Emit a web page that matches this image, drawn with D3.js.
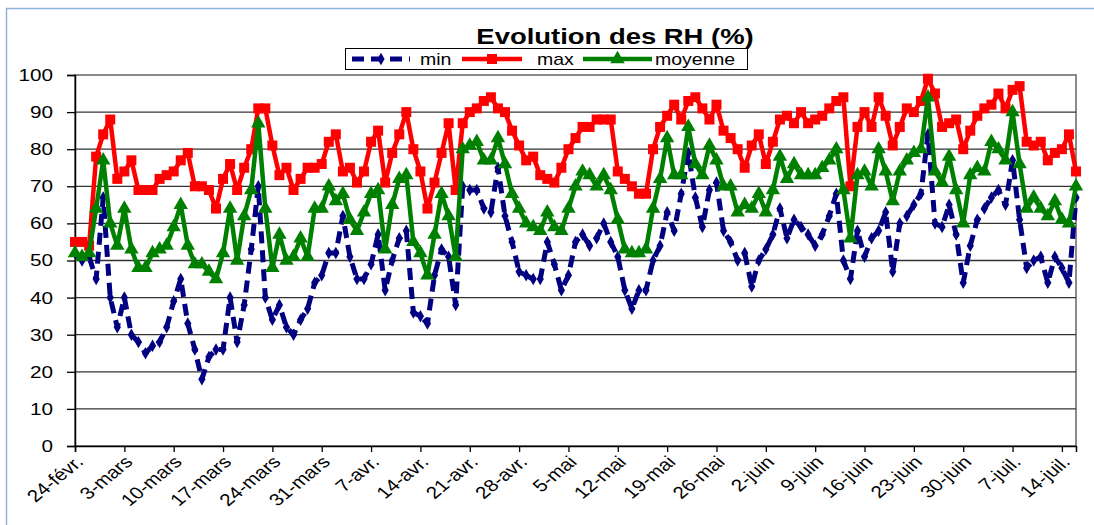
<!DOCTYPE html>
<html lang="fr">
<head>
    <meta charset="UTF-8">
    <title>Evolution des RH (%)</title>
    <script src="https://d3js.org/d3.v7.min.js"></script>
    <style>
        body { margin: 0; background: #fff; }
        text { font-family: "Liberation Sans", Arial, sans-serif; fill: #000; }
    </style>
</head>
<body>
    <div id="chart"></div>

    <script>
        // Daily relative humidity, one value per day from 24 Feb
        const minRH = [
            52, 50, 51, 45, 67, 40, 32, 40, 30, 28,
            25, 27, 28, 32, 39, 45, 33, 26, 18, 24,
            26, 26, 40, 28, 38, 53, 70, 40, 34, 38,
            32, 30, 34, 37, 44, 46, 52, 52, 62, 51,
            45, 45, 49, 57, 42, 50, 56, 58, 36, 35,
            33, 46, 53, 51, 38, 70, 69, 69, 64, 63,
            75, 62, 55, 47, 46, 45, 45, 55, 49, 42,
            46, 55, 57, 54, 56, 60, 55, 51, 42, 37,
            42, 42, 50, 54, 63, 58, 68, 79, 67, 59,
            69, 71, 58, 55, 50, 52, 43, 50, 53, 57,
            64, 56, 61, 59, 57, 54, 57, 62, 68, 50,
            45, 58, 51, 56, 58, 63, 47, 60, 62, 65,
            68, 84, 60, 59, 65, 57, 44, 54, 61, 64,
            67, 69, 65, 77, 61, 48, 50, 51, 44, 51,
            48, 44, 67
        ];
        const maxRH = [
            55, 55, 54, 78, 84, 88, 72, 74, 77, 69,
            69, 69, 72, 73, 74, 77, 79, 70, 70, 69,
            64, 72, 76, 69, 75, 80, 91, 91, 81, 73,
            75, 69, 72, 75, 75, 76, 82, 84, 74, 75,
            71, 74, 82, 85, 71, 79, 84, 90, 80, 74,
            64, 71, 79, 87, 69, 87, 90, 91, 93, 94,
            91, 90, 85, 81, 77, 78, 73, 72, 71, 75,
            80, 83, 86, 86, 88, 88, 88, 74, 72, 70,
            68, 68, 80, 86, 89, 92, 88, 93, 94, 91,
            88, 92, 85, 83, 80, 75, 81, 84, 76, 82,
            88, 89, 87, 90, 87, 88, 89, 91, 93, 94,
            70, 86, 90, 86, 94, 89, 81, 86, 91, 90,
            93, 99, 95, 86, 87, 88, 80, 85, 89, 91,
            92, 95, 91, 96, 97, 82, 81, 82, 77, 79,
            80, 84, 74
        ];
        const meanRH = [
            52, 51, 52, 64, 77, 60, 54, 64, 53, 48,
            48, 52, 53, 54, 59, 65, 54, 49, 49, 47,
            45, 52, 64, 50, 62, 69, 87, 64, 48, 57,
            50, 51, 56, 51, 64, 64, 70, 66, 68, 61,
            58, 63, 68, 69, 53, 65, 72, 73, 55, 52,
            46, 57, 68, 62, 51, 80, 81, 82, 77, 77,
            83, 76, 68, 64, 60, 59, 58, 63, 59, 58,
            64, 70, 74, 73, 70, 73, 69, 61, 53, 52,
            52, 53, 64, 72, 83, 73, 73, 86, 76, 73,
            81, 77, 70, 70, 63, 65, 64, 68, 63, 69,
            78, 72, 76, 73, 73, 73, 75, 77, 80, 69,
            56, 73, 74, 70, 80, 74, 66, 74, 77, 79,
            80, 94, 74, 71, 78, 69, 60, 73, 75, 74,
            82, 80, 77, 90, 76, 64, 67, 64, 62, 66,
            61, 60, 70
        ];

        const tickLabels = ["24-févr.", "3-mars", "10-mars", "17-mars", "24-mars", "31-mars",
            "7-avr.", "14-avr.", "21-avr.", "28-avr.", "5-mai", "12-mai", "19-mai", "26-mai",
            "2-juin", "9-juin", "16-juin", "23-juin", "30-juin", "7-juil.", "14-juil."];
        const yTicks = [0, 10, 20, 30, 40, 50, 60, 70, 80, 90, 100];

        const seriesNames = ["min", "max", "moyenne"];
        const seriesColors = ["#000080", "#ff0000", "#008000"];

        const DAY = 864e5;
        const start = Date.UTC(2007, 1, 24);
        const dates = minRH.map((_, i) => new Date(start + i * DAY));
        const tickDates = tickLabels.map((_, i) => new Date(start + i * 7 * DAY));

        const svgWidth = 1094;
        const svgHeight = 525;
        const plot = { left: 75, right: 1076, top: 75, bottom: 446 };
        const sx = 1.22; // the original text is stretched sideways

        const svg = d3.select("#chart")
            .append("svg")
            .attr("width", svgWidth)
            .attr("height", svgHeight);

        // outer frame (only top and left edges show)
        svg.append("path")
            .attr("d", `M6.5,${svgHeight}V8.5H${svgWidth}`)
            .attr("fill", "none")
            .attr("stroke", "#8fb3e0")
            .attr("stroke-width", 1.5);

        const x = d3.scaleUtc()
            .domain([dates[0], dates[dates.length - 1]])
            .range([plot.left, plot.right]);

        const y = d3.scaleLinear()
            .domain([0, 100])
            .range([plot.bottom, plot.top]);

        // plot area border
        svg.append("rect")
            .attr("x", plot.left)
            .attr("y", plot.top)
            .attr("width", plot.right - plot.left)
            .attr("height", plot.bottom - plot.top)
            .attr("fill", "#fff")
            .attr("stroke", "#8a8a8a")
            .attr("stroke-width", 2);

        // gridlines
        svg.append("g")
            .selectAll("line")
            .data(yTicks.filter(v => v > 0 && v < 100))
            .join("line")
            .attr("x1", plot.left)
            .attr("x2", plot.right)
            .attr("y1", d => y(d))
            .attr("y2", d => y(d))
            .attr("stroke", "#333")
            .attr("stroke-width", 1.3);

        // y axis
        const yAxis = svg.append("g")
            .attr("transform", `translate(${plot.left},0)`)
            .call(d3.axisLeft(y).tickValues(yTicks).tickSize(8).tickPadding(10));
        yAxis.select(".domain").attr("stroke", "#000").attr("stroke-width", 1.5);
        yAxis.selectAll(".tick line").attr("stroke", "#000").attr("stroke-width", 1.3);
        yAxis.selectAll(".tick text")
            .attr("font-size", 17)
            .attr("font-family", null)
            .attr("transform", `scale(${sx},1)`);

        // x axis
        const xAxis = svg.append("g")
            .attr("transform", `translate(0,${plot.bottom})`)
            .call(d3.axisBottom(x).tickValues(tickDates).tickFormat((d, i) => tickLabels[i]).tickSize(6));
        xAxis.select(".domain").attr("stroke", "#000").attr("stroke-width", 1.5);
        xAxis.selectAll(".tick line").attr("stroke", "#000").attr("stroke-width", 1.3);
        xAxis.selectAll(".tick text")
            .attr("font-size", 17)
            .attr("font-family", null)
            .attr("text-anchor", "end")
            .attr("x", 0)
            .attr("y", 0)
            .attr("dy", 0)
            .attr("transform", `translate(9,17) scale(${sx},1) rotate(-45)`);

        // series
        const allSeries = [minRH, maxRH, meanRH];
        const line = d3.line()
            .x((d, i) => x(dates[i]))
            .y(d => y(d));

        const symbols = [
            d3.symbol().type(d3.symbolDiamond).size(45),
            d3.symbol().type(d3.symbolSquare).size(100),
            d3.symbol().type(d3.symbolTriangle).size(90)
        ];

        allSeries.forEach((values, k) => {
            const g = svg.append("g");
            g.append("path")
                .datum(values)
                .attr("d", line)
                .attr("fill", "none")
                .attr("stroke", seriesColors[k])
                .attr("stroke-width", k === 0 ? 5 : 4.5)
                .attr("stroke-dasharray", k === 0 ? "12,7" : null)
                .attr("stroke-linejoin", "round");
            g.selectAll("path.mark")
                .data(values)
                .join("path")
                .attr("class", "mark")
                .attr("transform", (d, i) => `translate(${x(dates[i])},${y(d)})`)
                .attr("d", symbols[k])
                .attr("fill", seriesColors[k]);
        });

        // title
        svg.append("text")
            .attr("transform", `translate(615,44) scale(${sx},1)`)
            .attr("text-anchor", "middle")
            .attr("font-size", 22.5)
            .attr("font-weight", "bold")
            .text("Evolution des RH (%)");

        // legend
        const legend = svg.append("g");
        legend.append("rect")
            .attr("x", 345.5)
            .attr("y", 48.5)
            .attr("width", 402)
            .attr("height", 21)
            .attr("fill", "#fff")
            .attr("stroke", "#000")
            .attr("stroke-width", 1);

        const legendItems = [
            { x1: 352, x2: 410, tx: 420 },
            { x1: 462, x2: 522, tx: 537 },
            { x1: 583, x2: 652, tx: 655 }
        ];
        legendItems.forEach((it, k) => {
            legend.append("line")
                .attr("x1", it.x1)
                .attr("x2", it.x2)
                .attr("y1", 59)
                .attr("y2", 59)
                .attr("stroke", seriesColors[k])
                .attr("stroke-width", k === 0 ? 5 : 4.5)
                .attr("stroke-dasharray", k === 0 ? "12,7" : null);
            legend.append("path")
                .attr("transform", `translate(${(it.x1 + it.x2) / 2},59)`)
                .attr("d", symbols[k])
                .attr("fill", seriesColors[k]);
            legend.append("text")
                .attr("transform", `translate(${it.tx},65) scale(${sx},1)`)
                .attr("font-size", 16)
                .text(seriesNames[k]);
        });
    </script>
</body>
</html>
